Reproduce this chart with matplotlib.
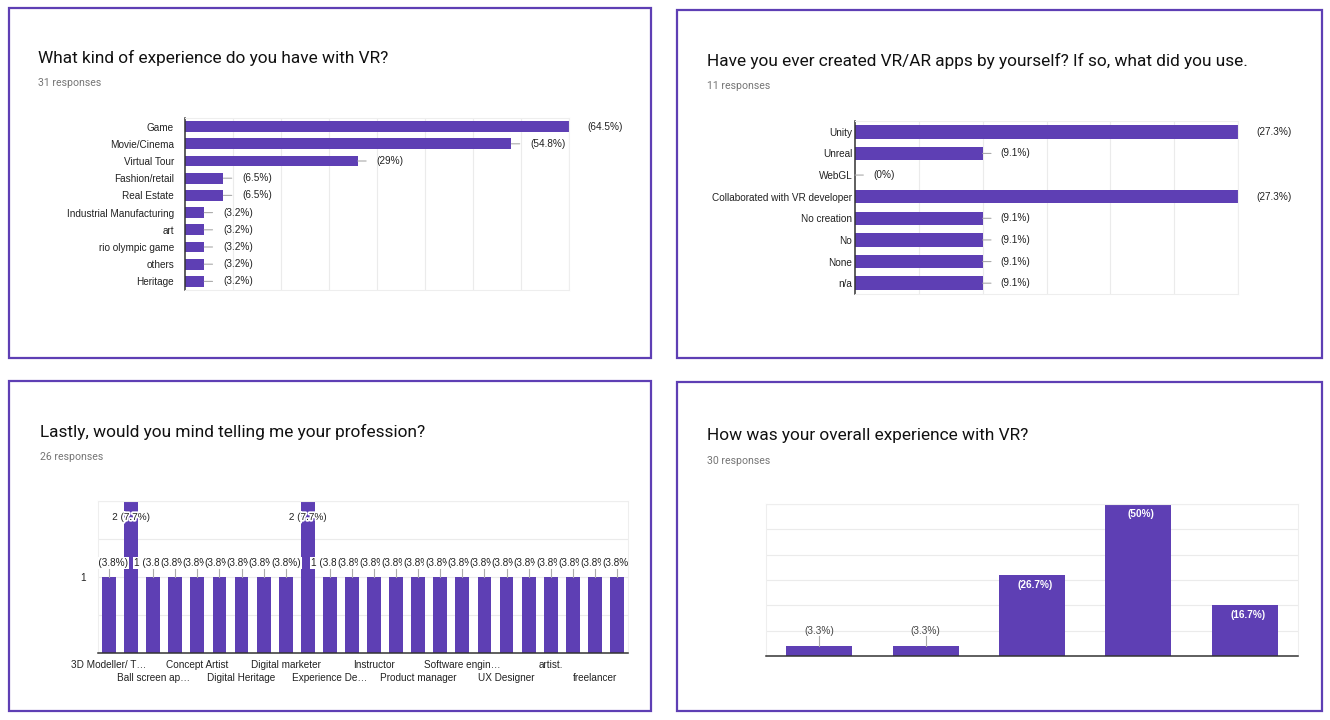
import matplotlib
matplotlib.use('Agg')
import matplotlib.pyplot as plt
import matplotlib.patheffects as pe
from matplotlib.patches import Rectangle
import numpy as np

W, H = 1330, 720
PURPLE = '#5e3fb4'
GRID = '#ebebeb'
TXT = '#222222'
GRAY = '#757575'
LABEL_FONT = ['Liberation Sans', 'DejaVu Sans']
TITLE_FONT = ['Roboto', 'DejaVu Sans']

# top-left: kind of VR experience
vr_types = ['Game', 'Movie/Cinema', 'Virtual Tour', 'Fashion/retail', 'Real Estate',
            'Industrial Manufacturing', 'art', 'rio olympic game', 'others', 'Heritage']
vr_counts = [20, 17, 9, 2, 2, 1, 1, 1, 1, 1]
vr_total = 31

# top-right: tools used
tools = ['Unity', 'Unreal', 'WebGL', 'Collaborated with VR developer',
         'No creation', 'No', 'None', 'n/a']
tool_counts = [3, 1, 0, 3, 1, 1, 1, 1]
tool_total = 11

# bottom-left: professions (only every second label is shown)
prof_labels = ['3D Modeller/ T…', 'Ball screen ap…', 'Concept Artist', 'Digital Heritage',
               'Digital marketer', 'Experience De…', 'Instructor', 'Product manager',
               'Software engin…', 'UX Designer', 'artist.', 'freelancer']
prof_counts = [1, 2, 1, 1, 1, 1, 1, 1, 1, 2, 1, 1, 1, 1, 1, 1, 1, 1, 1, 1, 1, 1, 1, 1]
prof_total = 26

# bottom-right: overall experience
rating_counts = [1, 1, 8, 15, 5]
rating_total = 30


def pct(c, t):
    s = f'{100 * c / t:.1f}'
    if s.endswith('.0'):
        s = s[:-2]
    return s + '%'


def box(l, t, r, b):
    return fig.add_axes([l / W, 1 - b / H, (r - l) / W, (b - t) / H])


def frame(l, t, r, b):
    fig.add_artist(Rectangle((l / W, 1 - b / H), (r - l) / W, (b - t) / H,
                             transform=fig.transFigure, fill=False,
                             ec=PURPLE, lw=1.6))


def heading(x, y, title, n):
    fig.text(x / W, 1 - y / H, title, fontsize=12.4, color='#111111',
             family=TITLE_FONT, va='center', ha='left')
    fig.text(x / W, 1 - (y + 25) / H, f'{n} responses', fontsize=7.6,
             color=GRAY, family=TITLE_FONT, va='center', ha='left')


def light_spines(ax, dark):
    for k, sp in ax.spines.items():
        if k == dark:
            sp.set_color('#333333')
            sp.set_linewidth(1.1)
        else:
            sp.set_color('#eeeeee')
            sp.set_linewidth(0.8)


def hbar(ax, labels, counts, total, xmax, step, pad, off):
    y = np.arange(len(labels))
    ax.barh(y, counts, height=0.62, color=PURPLE, zorder=2)
    ax.set_ylim(len(labels) - 0.5, -0.5)
    ax.set_xlim(0, xmax)
    ax.set_xticks(np.arange(step, xmax + 0.01, step))
    ax.xaxis.grid(True, color=GRID, lw=0.8, zorder=0)
    ax.set_axisbelow(True)
    ax.tick_params(axis='x', length=0, labelbottom=False)
    ax.set_yticks(y, labels, family=LABEL_FONT)
    ax.tick_params(axis='y', length=0, pad=pad, labelsize=7.2, labelcolor=TXT)
    light_spines(ax, 'left')
    for yi, c in zip(y, counts):
        if c < xmax:
            ax.annotate('', xy=(c, yi), xytext=(6, 0), textcoords='offset points',
                        arrowprops=dict(arrowstyle='-', color='#aaaaaa', lw=0.8,
                                        shrinkA=0, shrinkB=0))
        ax.annotate(f'({pct(c, total)})', xy=(c, yi), xytext=(off, 0),
                    textcoords='offset points', va='center', ha='left',
                    fontsize=7.2, color=TXT, family=LABEL_FONT)


fig = plt.figure(figsize=(W / 100, H / 100), dpi=100)

# panel frames
frame(9, 8, 651, 358)
frame(677, 10, 1322, 358)
frame(9, 381, 651, 711)
frame(677, 382, 1322, 711)

# top-left
heading(38, 58, 'What kind of experience do you have with VR?', vr_total)
ax1 = box(185, 118, 569, 290)
hbar(ax1, vr_types, vr_counts, vr_total, 20, 2.5, 8, 13.5)

# top-right
heading(707, 61, 'Have you ever created VR/AR apps by yourself? If so, what did you use.', tool_total)
ax2 = box(855, 121, 1238, 294)
hbar(ax2, tools, tool_counts, tool_total, 3, 0.5, 2, 13)

# bottom-left
heading(40, 432, 'Lastly, would you mind telling me your profession?', prof_total)
ax3 = box(98, 501, 628, 653)
x3 = np.arange(len(prof_counts))
ax3.bar(x3, prof_counts, width=0.63, color=PURPLE, zorder=2)
ax3.set_xlim(-0.5, len(prof_counts) - 0.5)
ax3.set_ylim(0, 2)
ax3.set_yticks([0.5, 1, 1.5, 2], ['', '1', '', ''], family=LABEL_FONT)
ax3.yaxis.grid(True, color=GRID, lw=0.8, zorder=0)
ax3.set_axisbelow(True)
ax3.tick_params(axis='y', length=0, pad=9, labelsize=7.2, labelcolor=TXT)
ax3.set_xticks(x3[::2], prof_labels, family=LABEL_FONT)
ax3.tick_params(axis='x', length=0, pad=5, labelsize=7.2, labelcolor=TXT)
# stagger the category labels over two rows
for i, lab in enumerate(ax3.get_xticklabels()):
    if i % 2 == 1:
        lab.set_y(-13 / 152)
light_spines(ax3, 'bottom')
for i, c in enumerate(prof_counts):
    prev_same = i > 0 and prof_counts[i - 1] == c
    s = f'({pct(c, prof_total)})' if prev_same else f'{c} ({pct(c, prof_total)})'
    if c == 1:
        ax3.plot([i, i], [c, c + 0.13], color='#aaaaaa', lw=0.8, zorder=3)
        ax3.text(i, c + 0.19, s, ha='center', va='center', fontsize=7.2, color=TXT,
                 family=LABEL_FONT, zorder=4 + i, clip_on=True,
                 bbox=dict(boxstyle='square,pad=0.1', fc='white', ec='none'))
    else:
        t = ax3.text(i, c - 0.21, s, ha='center', va='center', fontsize=7.2, color=TXT,
                     family=LABEL_FONT, zorder=4 + i, clip_on=True)
        t.set_path_effects([pe.withStroke(linewidth=2.5, foreground='white')])

# bottom-right
heading(707, 436, 'How was your overall experience with VR?', rating_total)
ax4 = box(766, 504, 1298, 656)
x4 = np.arange(len(rating_counts))
top = max(rating_counts)
ax4.bar(x4, rating_counts, width=0.62, color=PURPLE, zorder=2)
ax4.set_xlim(-0.5, len(rating_counts) - 0.5)
ax4.set_ylim(0, top)
ax4.set_yticks(np.arange(2.5, top + 0.01, 2.5))
ax4.yaxis.grid(True, color=GRID, lw=0.8, zorder=0)
ax4.set_axisbelow(True)
ax4.tick_params(length=0, labelleft=False, labelbottom=False)
light_spines(ax4, 'bottom')
for i, c in enumerate(rating_counts):
    s = f'({pct(c, rating_total)})'
    if c / top < 0.2:
        ax4.plot([i, i], [c, c + 0.95], color='#aaaaaa', lw=0.8, zorder=3)
        ax4.text(i, c + 1.45, s, ha='center', va='center', fontsize=7.2,
                 color='#444444', family=LABEL_FONT)
    else:
        ax4.annotate(s, xy=(i, c), xytext=(2, -7), textcoords='offset points',
                     ha='center', va='center', fontsize=7.2, color='white',
                     family=LABEL_FONT, fontweight='bold', zorder=4)

fig.savefig('out.png', dpi=100)
